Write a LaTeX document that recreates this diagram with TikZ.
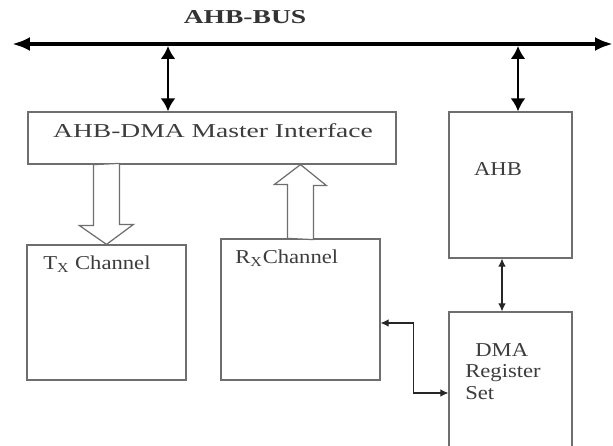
\documentclass[tikz,border=0pt]{standalone}
\usepackage{fontspec}
\setmainfont{Liberation Serif}[FakeStretch=1.15]
\newfontfamily\widefont{Liberation Serif}[FakeStretch=1.4]
\usetikzlibrary{arrows.meta,positioning,calc}
\definecolor{boxline}{HTML}{6E6E6E}
\definecolor{boxtext}{HTML}{3C3C3C}
\tikzset{
  block/.style={rectangle, draw=boxline, line width=0.7pt, inner sep=0pt},
  lbl/.style={font=\fontsize{11.2}{12.2}\selectfont, text=boxtext, inner sep=0pt},
  widelbl/.style={lbl, font=\widefont\fontsize{11.2}{12.2}\selectfont},
  busline/.style={{Latex[length=3.6mm,width=2.8mm]}-{Latex[length=3.6mm,width=2.8mm]},
    line width=2.2pt},
  tap/.style={{Latex[length=2.6mm,width=3mm]}-{Latex[length=2.6mm,width=3mm]},
    line width=1.7pt},
  link/.style={{Latex[length=1.6mm,width=1.5mm]}-{Latex[length=1.6mm,width=1.5mm]},
    line width=0.6pt, draw=black!85},
  hollow/.style={draw=boxline, line width=0.7pt, fill=white},
}
\begin{document}
\begin{tikzpicture}[x=0.02cm,y=-0.02cm]
\useasboundingbox (0,0) rectangle (613,446);

% ---- Bus -----------------------------------------------------------------
\node[widelbl, font=\widefont\bfseries\fontsize{11.2}{12.2}\selectfont, text=black!80]
  (buslbl) at (245,17) {AHB-BUS};
\coordinate (busL) at (12,44);
\coordinate (busR) at (613,44);
\draw[busline] (busL) -- (busR);
\coordinate (tapL) at (168,46);
\coordinate (tapR) at (518,46);

% ---- Blocks --------------------------------------------------------------
\node[block, minimum width=7.36cm, minimum height=1.04cm] (mi) at (212,138) {};
\node[block, minimum width=2.46cm, minimum height=2.92cm] (ahb) at (510.5,185) {};
\node[block, minimum width=2.46cm, minimum height=2.8cm] (dma) at (510.5,382) {};
\node[block, minimum width=3.18cm, minimum height=2.7cm] (tx) at (106.5,312.5) {};
\node[block, minimum width=3.18cm, minimum height=2.82cm] (rx) at (300.5,309.5) {};

\node[widelbl] (milbl) at (213,131) {AHB-DMA Master Interface};
\node[lbl] (ahblbl) at (498,169) {AHB};
\node[lbl, anchor=west] (txlbl) at (43,264) {T\textsubscript{X} Channel};
\node[lbl, anchor=west] (rxlbl) at (235,258) {R\textsubscript{X}Channel};
\node[lbl, align=left, anchor=north west] (dmalbl) at (465,343)
  {\hspace{0.2cm}DMA\\Register\\Set};

% ---- Connectors ----------------------------------------------------------
\draw[tap] (tapL) -- (tapL |- mi.north);
\draw[tap] (tapR) -- (tapR |- ahb.north);

% wide open arrows between the interface and the channels
\draw[hollow] (mi.south -| tx.north) ++(-13,0) -- ++(0,61) -- ++(-14,0)
  -- (tx.north) -- ++(27,-20) -- ++(-14,0) -- ++(0,-61) -- cycle;
\draw[hollow] (rx.north) ++(-13,0) -- ++(0,-54) -- ++(-13,0)
  -- (mi.south -| rx.north) -- ++(26,21) -- ++(-13,0) -- ++(0,54) -- cycle;

\draw[link] ([xshift=-0.17cm]ahb.south) -- ([xshift=-0.17cm]dma.north);
\draw[link] ([yshift=-0.27cm]rx.east) -- ++(33,0) |- ([yshift=-0.22cm]dma.west);

\end{tikzpicture}
\end{document}
